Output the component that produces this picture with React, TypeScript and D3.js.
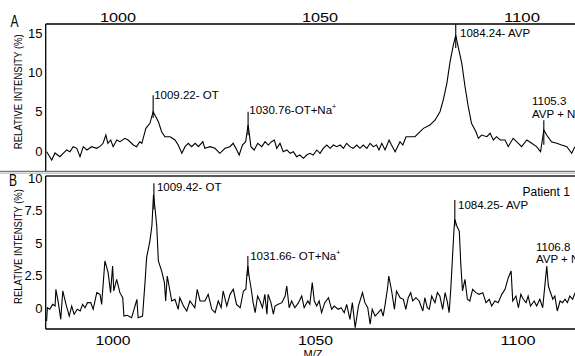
import React from 'react';
import * as d3 from 'd3';

// panel A: standard spectrum (m/z, relative intensity %)
const mzA = [
  982.35, 983.6, 984.4, 985.6, 987.3, 988.1, 988.9, 989.8, 990.6, 991.4, 992.3, 993.5, 994.7, 995.5,
  996.3, 997.0, 997.5, 998.2, 998.8, 999.7, 1000.5, 1001.7, 1002.5, 1003.8, 1004.6, 1005.4, 1005.9,
  1006.9, 1007.9, 1008.7, 1010.0, 1010.8, 1011.6, 1012.9, 1014.1, 1014.9, 1015.8, 1016.6, 1017.4,
  1018.2, 1019.1, 1019.9, 1021.0, 1021.5, 1022.8, 1024.0, 1025.2, 1026.5, 1027.7, 1028.5, 1029.4,
  1030.0, 1030.8, 1031.6, 1032.2, 1032.5, 1032.9, 1033.7, 1034.6, 1035.6, 1036.4, 1037.2, 1038.0,
  1038.7, 1039.3, 1040.1, 1040.9, 1041.8, 1042.6, 1043.4, 1044.2, 1045.0, 1045.9, 1046.7, 1047.5,
  1048.3, 1049.2, 1050.0, 1050.8, 1051.7, 1052.5, 1053.3, 1054.1, 1055.0, 1055.8, 1056.6, 1057.4,
  1058.2, 1059.1, 1059.9, 1060.7, 1061.6, 1062.4, 1063.2, 1064.0, 1064.6, 1065.3, 1066.1, 1067.1,
  1067.7, 1068.6, 1069.8, 1070.5, 1071.3, 1073.5, 1075.6, 1077.2, 1078.5, 1079.7, 1080.5, 1081.4,
  1082.2, 1083.0, 1083.6, 1084.2, 1085.1, 1085.9, 1086.7, 1087.5, 1088.6, 1089.2, 1090.0, 1091.3,
  1092.1, 1092.9, 1093.7, 1094.6, 1095.8, 1096.6, 1097.8, 1099.1, 1099.9, 1101.2, 1102.4, 1103.6,
  1104.6, 1105.4, 1106.1, 1107.3, 1108.6, 1109.8, 1111.1, 1112.3, 1113.1,
];
const intA = [
  -0.09, -1.14, -0.25, -0.72, 0.13, -0.09, 0.55, 0.34, -0.72, 0.55, 0.13, 0.55, 0.34, 0.55,
  0.98, 2.03, 0.98, 1.4, 0.55, 1.4, 1.18, 1.61, 1.4, 0.76, 0.55, 1.18, 0.98,
  2.88, 3.52, 5.0, 3.72, 2.45, 1.82, 1.82, 1.4, 0.76, -0.29, 0.55, 0.98,
  0.55, 0.98, 0.55, 1.18, 0.34, 0.55, 0.34, -0.29, 0.34, 0.55, 0.98, 0.13,
  -0.51, 0.76, 1.18, 3.3, 2.2, 0.55, 0.13, 0.98, 0.55, 1.18, 0.76, 1.18,
  1.4, 0.34, 0.98, -0.09, 0.13, -0.29, -0.09, -0.72, -0.51, -0.93, -0.51, -0.29,
  -0.51, 0.13, -0.29, 0.34, 0.76, 0.34, 0.76, 0.55, 0.76, 0.34, 0.98, 0.55,
  0.34, 0.76, 0.34, 0.76, 0.34, 0.98, 0.55, 0.76, 0.13, 0.98, 0.13, 1.4,
  0.76, -0.09, 1.18, 0.76, 1.82, 1.82, 2.88, 3.3, 3.94, 4.99, 6.48, 8.6,
  11.35, 13.47, 14.7, 13.25, 11.14, 8.17, 5.63, 3.52, 2.45, 1.61, 2.03, 1.82,
  2.25, 1.4, 1.82, 1.4, 1.4, 0.55, 1.61, 0.98, 0.55, 1.4, 0.98, 0.55,
  -0.09, 2.67, 2.03, 1.18, 0.98, 0.76, 0.55, -0.29, 0.55,
];

// panel B: patient 1
const mzB = [
  983.6, 983.8, 984.4, 985.1, 985.7, 985.9, 986.5, 987.1, 987.6, 988.4, 989.2, 989.8, 990.4, 991.2,
  991.9, 992.5, 993.1, 993.7, 994.5, 995.1, 996.0, 996.8, 997.2, 998.0, 998.8, 999.4, 999.9, 1000.2,
  1000.9, 1001.7, 1002.4, 1002.7, 1003.5, 1004.6, 1005.2, 1005.9, 1006.2, 1007.3, 1007.9, 1008.3,
  1009.1, 1009.6, 1010.0, 1010.4, 1010.8, 1011.2, 1012.0, 1012.7, 1013.0, 1013.4, 1014.5, 1015.3,
  1016.1, 1016.5, 1017.4, 1018.2, 1019.0, 1020.2, 1020.8, 1021.5, 1022.7, 1023.5, 1024.4, 1025.2,
  1026.0, 1026.7, 1027.2, 1028.1, 1028.9, 1029.7, 1030.5, 1031.4, 1032.2, 1032.8, 1033.1, 1033.3,
  1033.6, 1034.2, 1034.6, 1035.1, 1035.7, 1036.3, 1036.9, 1037.5, 1038.0, 1038.3, 1039.0, 1039.6,
  1040.0, 1040.8, 1041.7, 1042.5, 1042.9, 1043.5, 1044.1, 1044.9, 1045.8, 1046.6, 1047.2, 1048.1,
  1048.6, 1049.2, 1049.7, 1050.3, 1050.9, 1051.5, 1052.3, 1053.2, 1054.0, 1054.6, 1055.6, 1056.3,
  1057.1, 1057.7, 1058.5, 1059.1, 1059.8, 1060.6, 1061.6, 1062.2, 1062.9, 1063.5, 1064.0, 1064.7,
  1065.5, 1066.2, 1066.7, 1067.2, 1067.8, 1068.1, 1068.8, 1069.5, 1070.0, 1070.9, 1071.7, 1072.3,
  1072.9, 1073.5, 1074.0, 1074.8, 1075.6, 1076.5, 1077.0, 1077.6, 1078.1, 1078.7, 1079.5, 1080.1,
  1080.7, 1081.4, 1082.0, 1082.5, 1083.0, 1083.4, 1083.8, 1084.2, 1084.4, 1084.9, 1085.5, 1085.9,
  1086.3, 1086.9, 1087.5, 1088.1, 1088.8, 1089.6, 1090.4, 1091.3, 1092.1, 1092.9, 1093.5, 1094.3,
  1095.1, 1096.0, 1096.8, 1097.6, 1098.3, 1098.7, 1099.5, 1100.1, 1100.7, 1101.3, 1102.0, 1102.5,
  1103.1, 1104.0, 1104.6, 1105.4, 1106.1, 1106.7, 1107.1, 1107.5, 1107.9, 1108.6, 1109.1, 1109.7,
  1110.4, 1111.0, 1111.6, 1112.2, 1112.8, 1113.5, 1114.1,
];
const intB = [
  -1.0, 0.02, -0.1, 0.28, 0.15, 1.44, 0.41, -0.87, 1.31, 0.28, -0.62, 0.15, -0.48, -0.1,
  -0.23, 0.28, 0.02, 0.41, 0.41, -0.1, 1.18, 1.05, 0.28, 3.62, 2.72, 1.18, 3.23, 1.31,
  2.21, 1.18, 0.79, -0.62, -0.56, -0.75, -0.1, 0.67, -0.75, -0.62, 1.95, 3.87,
  5.15, 6.31, 8.7, 7.6, 6.31, 3.62, 2.85, 1.95, 0.54, 2.46, 0.54, 0.67,
  -0.1, 0.79, 0.15, -0.23, 0.54, 0.02, 1.44, 0.54, 0.54, 1.05, -0.1, -0.36,
  0.54, 0.02, 1.31, 0.15, 1.05, 1.44, 0.28, 0.02, 1.31, 1.44, 2.72, 3.23,
  2.46, 1.31, 0.41, -0.36, 0.92, 0.54, 0.02, 1.05, -0.48, 1.05, 0.41, -0.48,
  0.15, 0.28, 0.41, 0.92, 1.69, 0.02, 0.54, 0.02, 0.41, 0.92, 0.02, 0.54,
  0.28, 1.95, 0.54, 0.15, 0.54, -0.36, 0.41, 0.79, -0.1, 0.15, -0.1, 0.02,
  -0.36, 0.28, -0.87, 0.41, -1.52, 0.15, 1.18, 0.41, 0.02, -1.25, -0.1, -0.62,
  -0.36, -0.1, -0.62, 0.28, 1.56, 2.46, 1.31, -0.1, 1.31, 0.79, 0.67, -0.1,
  0.79, 1.18, 0.54, 0.79, 0.54, -0.23, 0.79, 0.02, -0.1, 0.92, 0.41, 1.18,
  0.92, -0.1, 1.18, 0.54, -0.36, 1.44, 3.75, 6.05, 6.82, 6.31, 5.92, 3.23,
  1.31, 2.21, 0.67, 0.54, 1.44, 1.18, 1.05, 1.18, 0.41, 0.67, 0.15, 0.54,
  0.41, 1.05, 1.44, 2.33, 2.85, 0.54, 0.92, 0.02, 1.05, 0.67, 0.41, 0.92,
  0.15, 0.54, 0.15, 0.67, 0.02, 1.95, 3.23, 1.69, 1.31, 0.67, 0.92, -0.23,
  0.54, 0.41, 0.67, 0.41, 0.92, 0.67, 1.18,
];

const xTicks = [1000, 1050, 1100];
const yTicksA = [0, 5, 10, 15];
const yTicksB = [0, 2.5, 5, 7.5, 10];

// labelled peaks: marker line from base to top (intensity units)
const peakMzA = [1008.7, 1032.2, 1083.6, 1105.4];
const peakTopA = [7.1, 5.0, 16.1, 3.9];
const peakBaseA = [4.2, 2.0, 13.1, 0.8];
const peakTextA = [['1009.22- OT'], ['1030.76-OT+Na^+'], ['1084.24- AVP'], ['1105.3', 'AVP + Na^+']];

const peakMzB = [1010.1, 1033.3, 1084.4, 1107.1];
const peakTopB = [9.6, 4.0, 8.3, 3.23];
const peakBaseB = [7.6, 2.46, 6.3, 3.23];
const peakTextB = [['1009.42- OT'], ['1031.66- OT+Na^+'], ['1084.25- AVP'], ['1106.8', 'AVP + Na^+']];

const W = 575;
const H = 356;
const FONT = '"Liberation Sans", Arial, sans-serif';
const left = 45.7;
const panelA = { top: 24, bottom: 171.5 };
const panelB = { top: 176, bottom: 329 };

// label offsets from marker top, px
const labelOffA = [[1, 3.5], [1.2, 2], [4.3, 12.2], [-11.8, -15.3]];
const labelOffB = [[3, 8], [2.3, 4], [3.2, 9], [-10.8, -15.5]];

const xA = d3.scaleLinear().domain([1000, 1100]).range([118, 522]);
const yA = d3.scaleLinear().domain([0, 15]).range([151, 33]);
const xB = d3.scaleLinear().domain([1000, 1100]).range([113, 518]);
const yB = d3.scaleLinear().domain([0, 10]).range([308, 178]);

const Label = ({ x, y, lines }: { x: number; y: number; lines: string[] }) => (
  <text x={x} y={y} fontSize={11.5} fontFamily={FONT} fill="#000">
    {lines.map((ln, i) => {
      const [main, sup] = ln.split('^');
      return (
        <tspan key={i} x={x} y={y + i * 12.5}>
          {main}
          {sup && (
            <tspan fontSize={7} dy={-5}>
              {sup}
            </tspan>
          )}
        </tspan>
      );
    })}
  </text>
);

const Panel = ({ id, mz, val, x, y, box, ticks, peaks }: any) => {
  const line = d3
    .line<number>()
    .x((_, i) => x(mz[i]))
    .y((d) => y(d));
  return (
    <g>
      <clipPath id={id}>
        <rect x={left} y={box.top} width={W - left} height={box.bottom - box.top} />
      </clipPath>
      <path d={line(val) || ''} fill="none" stroke="#000" strokeWidth={1.1} clipPath={`url(#${id})`} />
      {peaks.mz.map((m: number, i: number) => (
        <g key={i}>
          {peaks.top[i] !== peaks.base[i] && (
            <line x1={x(m)} x2={x(m)} y1={y(peaks.base[i])} y2={y(peaks.top[i])} stroke="#000" strokeWidth={1.1} />
          )}
          <Label x={x(m) + peaks.off[i][0]} y={y(peaks.top[i]) + peaks.off[i][1]} lines={peaks.text[i]} />
        </g>
      ))}
      {ticks.map((t: number) => (
        <text key={t} x={42.5} y={y(t) + 4.6} textAnchor="end" fontSize={13} fontFamily={FONT}>
          {String(t)}
        </text>
      ))}
      <text
        transform={`translate(21.5,${(box.top + box.bottom) / 2 - 6}) rotate(-90)`}
        textAnchor="middle"
        fontSize={10}
        fontFamily={FONT}
        textLength={115}
        lengthAdjust="spacingAndGlyphs"
      >
        RELATIVE INTENSITY (%)
      </text>
    </g>
  );
};

export default function App() {
  return (
    <svg width={W} height={H} style={{ position: 'absolute', left: 0, top: 0, background: '#fff' }}>
      <rect width={W} height={H} fill="#fff" />
      <Panel
        id="clipA"
        mz={mzA}
        val={intA}
        x={xA}
        y={yA}
        box={panelA}
        ticks={yTicksA}
        peaks={{ mz: peakMzA, top: peakTopA, base: peakBaseA, text: peakTextA, off: labelOffA }}
      />
      <Panel
        id="clipB"
        mz={mzB}
        val={intB}
        x={xB}
        y={yB}
        box={panelB}
        ticks={yTicksB}
        peaks={{ mz: peakMzB, top: peakTopB, base: peakBaseB, text: peakTextB, off: labelOffB }}
      />

      {/* frames */}
      <line x1={left} x2={W} y1={panelA.top} y2={panelA.top} stroke="#000" strokeWidth={1.3} />
      <line x1={left} x2={left} y1={panelA.top} y2={panelA.bottom} stroke="#000" strokeWidth={1.3} />
      <line x1={0} x2={W} y1={panelA.bottom} y2={panelA.bottom} stroke="#777" strokeWidth={1.5} />
      <line x1={0} x2={W} y1={panelA.bottom + 2} y2={panelA.bottom + 2} stroke="#ccc" strokeWidth={1} />
      <line x1={left} x2={W} y1={panelB.top} y2={panelB.top} stroke="#222" strokeWidth={1.4} />
      <line x1={left} x2={left} y1={panelB.top} y2={panelB.bottom} stroke="#000" strokeWidth={1.3} />
      <line x1={left} x2={W} y1={panelB.bottom} y2={panelB.bottom} stroke="#000" strokeWidth={1.3} />

      {/* top x axis (panel A) */}
      {xTicks.map((t) => (
        <text key={t} x={xA(t)} y={22} textAnchor="middle" fontSize={12} fontFamily={FONT} textLength={36} lengthAdjust="spacingAndGlyphs">
          {t}
        </text>
      ))}
      {/* bottom x axis (panel B) */}
      {xTicks.map((t) => (
        <text key={t} x={xB(t)} y={344.5} textAnchor="middle" fontSize={12} fontFamily={FONT} textLength={35} lengthAdjust="spacingAndGlyphs">
          {t}
        </text>
      ))}
      <text x={313} y={357.5} textAnchor="middle" fontSize={11} fontFamily={FONT}>
        M/Z
      </text>

      <text x={10.5} y={27} fontSize={16} fontFamily={FONT} textLength={8} lengthAdjust="spacingAndGlyphs">
        A
      </text>
      <text x={9} y={185.5} fontSize={16} fontFamily={FONT} textLength={8} lengthAdjust="spacingAndGlyphs">
        B
      </text>
      <text x={522.5} y={196} fontSize={12} fontFamily={FONT}>
        Patient 1
      </text>
    </svg>
  );
}
